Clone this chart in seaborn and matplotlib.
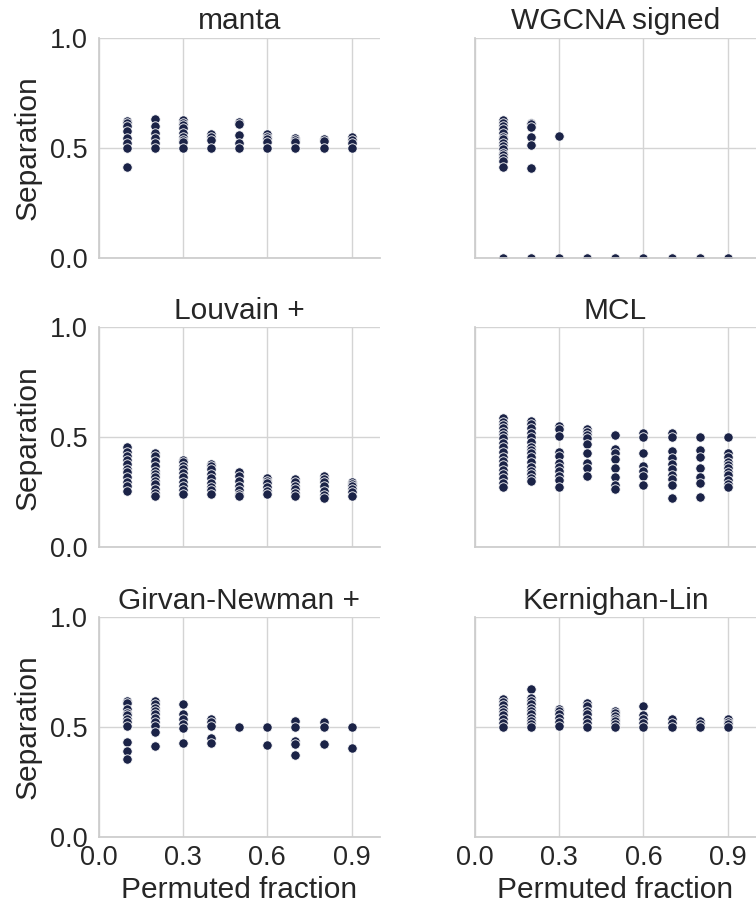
import numpy as np
import pandas as pd
import matplotlib
matplotlib.use("Agg")
import matplotlib.pyplot as plt
import seaborn as sns

methods = ["manta", "WGCNA signed", "Louvain +", "MCL", "Girvan-Newman +", "Kernighan-Lin"]
fractions = [0.1, 0.2, 0.3, 0.4, 0.5, 0.6, 0.7, 0.8, 0.9]

manta = {
    0.1: [0.62, 0.61, 0.60, 0.576, 0.545, 0.52, 0.50, 0.41],
    0.2: [0.63, 0.598, 0.565, 0.542, 0.52, 0.50],
    0.3: [0.625, 0.614, 0.602, 0.587, 0.568, 0.55, 0.535, 0.524, 0.50],
    0.4: [0.562, 0.55, 0.535, 0.50],
    0.5: [0.618, 0.606, 0.557, 0.52, 0.50],
    0.6: [0.56, 0.55, 0.54, 0.527, 0.50],
    0.7: [0.542, 0.535, 0.527, 0.50],
    0.8: [0.54, 0.53, 0.50],
    0.9: [0.546, 0.535, 0.52, 0.50],
}
wgcna = {
    0.1: [0.626, 0.614, 0.598, 0.583, 0.565, 0.55, 0.538, 0.523, 0.508, 0.492,
          0.477, 0.467, 0.452, 0.44, 0.41, 0.0],
    0.2: [0.614, 0.605, 0.595, 0.547, 0.512, 0.406, 0.0],
    0.3: [0.552, 0.0],
    0.4: [0.0],
    0.5: [0.0],
    0.6: [0.0],
    0.7: [0.0],
    0.8: [0.0],
    0.9: [0.0],
}
louvain = {
    0.1: [0.455, 0.432, 0.417, 0.398, 0.379, 0.356, 0.341, 0.318, 0.295, 0.28, 0.258],
    0.2: [0.427, 0.417, 0.394, 0.371, 0.348, 0.333, 0.318, 0.303, 0.288, 0.265, 0.247, 0.232],
    0.3: [0.398, 0.386, 0.371, 0.356, 0.338, 0.318, 0.298, 0.28, 0.262, 0.242],
    0.4: [0.379, 0.368, 0.356, 0.333, 0.314, 0.292, 0.273, 0.262, 0.242],
    0.5: [0.341, 0.323, 0.303, 0.28, 0.262, 0.242, 0.232],
    0.6: [0.314, 0.303, 0.292, 0.273, 0.258, 0.242],
    0.7: [0.311, 0.295, 0.28, 0.265, 0.247, 0.232],
    0.8: [0.323, 0.311, 0.295, 0.28, 0.258, 0.238, 0.223],
    0.9: [0.298, 0.288, 0.277, 0.265, 0.25, 0.235],
}
mcl = {
    0.1: [0.586, 0.571, 0.556, 0.541, 0.526, 0.511, 0.495, 0.473, 0.455, 0.435,
          0.412, 0.394, 0.374, 0.352, 0.333, 0.314, 0.291, 0.273],
    0.2: [0.576, 0.561, 0.541, 0.521, 0.503, 0.48, 0.458, 0.442, 0.427, 0.409,
          0.389, 0.367, 0.348, 0.333, 0.314, 0.303],
    0.3: [0.552, 0.536, 0.506, 0.435, 0.415, 0.382, 0.367, 0.348, 0.324, 0.306, 0.273],
    0.4: [0.536, 0.526, 0.511, 0.495, 0.47, 0.43, 0.382, 0.359, 0.324],
    0.5: [0.511, 0.445, 0.427, 0.40, 0.359, 0.318, 0.283, 0.264],
    0.6: [0.518, 0.503, 0.427, 0.37, 0.348, 0.324, 0.283],
    0.7: [0.518, 0.503, 0.439, 0.405, 0.379, 0.355, 0.329, 0.309, 0.283, 0.226],
    0.8: [0.50, 0.442, 0.409, 0.359, 0.321, 0.291, 0.227],
    0.9: [0.503, 0.43, 0.412, 0.389, 0.374, 0.359, 0.344, 0.329, 0.306, 0.288, 0.273],
}
girvan = {
    0.1: [0.618, 0.608, 0.583, 0.565, 0.553, 0.538, 0.523, 0.505, 0.432, 0.391, 0.353],
    0.2: [0.618, 0.603, 0.588, 0.573, 0.558, 0.542, 0.523, 0.505, 0.477, 0.414],
    0.3: [0.603, 0.561, 0.535, 0.515, 0.497, 0.426],
    0.4: [0.535, 0.523, 0.505, 0.452, 0.429],
    0.5: [0.50],
    0.6: [0.50, 0.417],
    0.7: [0.527, 0.50, 0.436, 0.421, 0.373],
    0.8: [0.523, 0.50, 0.424],
    0.9: [0.50, 0.406],
}
kernighan = {
    0.1: [0.629, 0.614, 0.598, 0.583, 0.568, 0.553, 0.538, 0.52, 0.50],
    0.2: [0.671, 0.633, 0.618, 0.603, 0.588, 0.573, 0.558, 0.542, 0.527, 0.512, 0.50],
    0.3: [0.583, 0.573, 0.558, 0.542, 0.523, 0.505],
    0.4: [0.611, 0.595, 0.573, 0.558, 0.538, 0.52, 0.50],
    0.5: [0.573, 0.562, 0.55, 0.538, 0.527, 0.512, 0.50],
    0.6: [0.595, 0.553, 0.535, 0.52, 0.50],
    0.7: [0.538, 0.52, 0.50],
    0.8: [0.527, 0.512, 0.50],
    0.9: [0.535, 0.523, 0.512, 0.50],
}

series = [manta, wgcna, louvain, mcl, girvan, kernighan]
rows = []
for name, d in zip(methods, series):
    for f in fractions:
        for v in d[f]:
            rows.append({"Method": name, "Permuted fraction": f, "Separation": v})
df = pd.DataFrame(rows)

sns.set_theme(style="whitegrid")
plt.rcParams["font.family"] = ["Liberation Sans", "DejaVu Sans"]
plt.rcParams["axes.edgecolor"] = "#cccccc"
plt.rcParams["grid.color"] = "#d4d4d4"

g = sns.FacetGrid(df, col="Method", col_wrap=2, col_order=methods,
                  sharex=True, sharey=True, height=3, aspect=1.0, despine=True)
g.map_dataframe(sns.scatterplot, x="Permuted fraction", y="Separation",
                color="#1b2347", s=46, edgecolor="white", linewidth=0.6)
g.set_titles("{col_name}", size=21.5)
g.set(xlim=(0, 1.0), ylim=(0, 1.0), xticks=[0.0, 0.3, 0.6, 0.9], yticks=[0.0, 0.5, 1.0])
for ax in g.axes.flat:
    ax.tick_params(labelsize=19.5, length=0)
    ax.tick_params(axis="y", pad=8)
    ax.tick_params(axis="x", pad=6)
    ax.xaxis.label.set_size(21.5)
    ax.yaxis.label.set_size(21.5)
    ax.xaxis.labelpad = 3
    ax.yaxis.labelpad = 6
    ax.grid(True, color="#d4d4d4", linewidth=1)
    for sp in ax.spines.values():
        sp.set_color("#cccccc")

fig = g.figure
fig.set_size_inches(7.56, 9.11)
fig.subplots_adjust(left=0.1303, right=1.0, top=0.9588, bottom=0.0812,
                    wspace=0.337, hspace=0.316)
fig.savefig("out.png", dpi=100)
